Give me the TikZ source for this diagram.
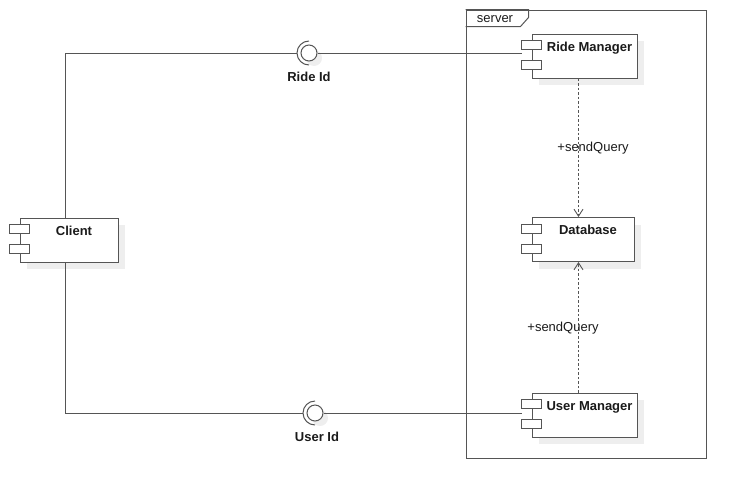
\documentclass[tikz,border=0pt]{standalone}
\usepackage{fontspec}
\setmainfont{Liberation Sans}
\usetikzlibrary{arrows.meta,shadows}
\definecolor{linecol}{HTML}{555555}
\definecolor{shadecol}{HTML}{EEEEEE}
\definecolor{txtcol}{HTML}{1A1A1A}
\begin{document}
\begin{tikzpicture}[x=1pt, y=-1pt]
    \tikzstyle{line} = [draw=linecol, line width=1pt]
    \tikzstyle{dep} = [line, dash pattern=on 2.5pt off 2pt,
        -{Straight Barb[length=7pt, width=9pt, line width=0.9pt]}]
    \tikzstyle{comp} = [rectangle, line, fill=white, minimum width=105,
        minimum height=44, inner sep=0, text height=17, text depth=27,
        text=txtcol, font=\fontsize{13}{15}\selectfont\bfseries,
        execute at begin node=\hspace*{10pt},
        drop shadow={shadow xshift=7pt, shadow yshift=-7pt, fill=shadecol,
        opacity=1}]
    \tikzstyle{port} = [line, fill=white]
    \tikzstyle{ball} = [circle, line, fill=white, minimum size=16,
        inner sep=0, drop shadow={shadow xshift=5pt, shadow yshift=-5pt,
        fill=shadecol, opacity=1}]
    \tikzstyle{iflbl} = [text=txtcol, font=\fontsize{13}{15}\selectfont\bfseries]
    \tikzstyle{msg} = [text=txtcol, font=\fontsize{13}{15}\selectfont]

    \useasboundingbox (0,0) rectangle (746,498);

    % server frame
    \node(server) [rectangle, line, minimum width=240, minimum height=448]
        at (586,234) {};
    \draw[line] (server.north west) -- ++(63,0) -- ++(0,8) -- ++(-8,9)
        -- ++(-55,0);
    \node(servertag) [msg] at (495,19) {server};

    % components
    \node(client) [comp, minimum width=98] at (69,240) {Client};
    \node(rideMgr) [comp] at (584.5,56) {Ride Manager};
    \node(database) [comp, minimum width=102] at (583,239.5) {Database};
    \node(userMgr) [comp] at (584.5,415) {User Manager};

    \foreach \c in {client, rideMgr, database, userMgr} {
        \draw[port] ([shift={(-10,7)}]\c.north west) rectangle
            ([shift={(10,16)}]\c.north west);
        \draw[port] ([shift={(-10,27)}]\c.north west) rectangle
            ([shift={(10,36)}]\c.north west);
    }

    % provided interfaces
    \node(rideIf) [ball] at (309,53) {};
    \node(userIf) [ball] at (315,413) {};
    \draw[line] ([shift={(0,12)}]rideIf.center) arc[start angle=90,
        end angle=270, radius=12];
    \draw[line] ([shift={(0,12)}]userIf.center) arc[start angle=90,
        end angle=270, radius=12];
    \node(rideIdLbl) [iflbl] at ([shift={(0,24)}]rideIf.center) {Ride Id};
    \node(userIdLbl) [iflbl] at ([shift={(2,24)}]userIf.center) {User Id};

    \draw[line] ([xshift=-4]client.north) |- ([xshift=-12]rideIf.center);
    \draw[line] (rideIf.east) -- ([xshift=-10]rideIf.east -| rideMgr.west);
    \draw[line] ([xshift=-4]client.south) |- ([xshift=-12]userIf.center);
    \draw[line] (userIf.east) -- ([xshift=-10]userIf.east -| userMgr.west);

    % queries
    \draw[dep] ([xshift=-6]rideMgr.south) -- ([xshift=-6]rideMgr.south |- database.north);
    \draw[dep] ([xshift=-6]userMgr.north) -- ([xshift=-6]userMgr.north |- database.south);
    \node(query1) [msg] at (593,148) {+sendQuery};
    \node(query2) [msg] at (563,328) {+sendQuery};
\end{tikzpicture}
\end{document}
